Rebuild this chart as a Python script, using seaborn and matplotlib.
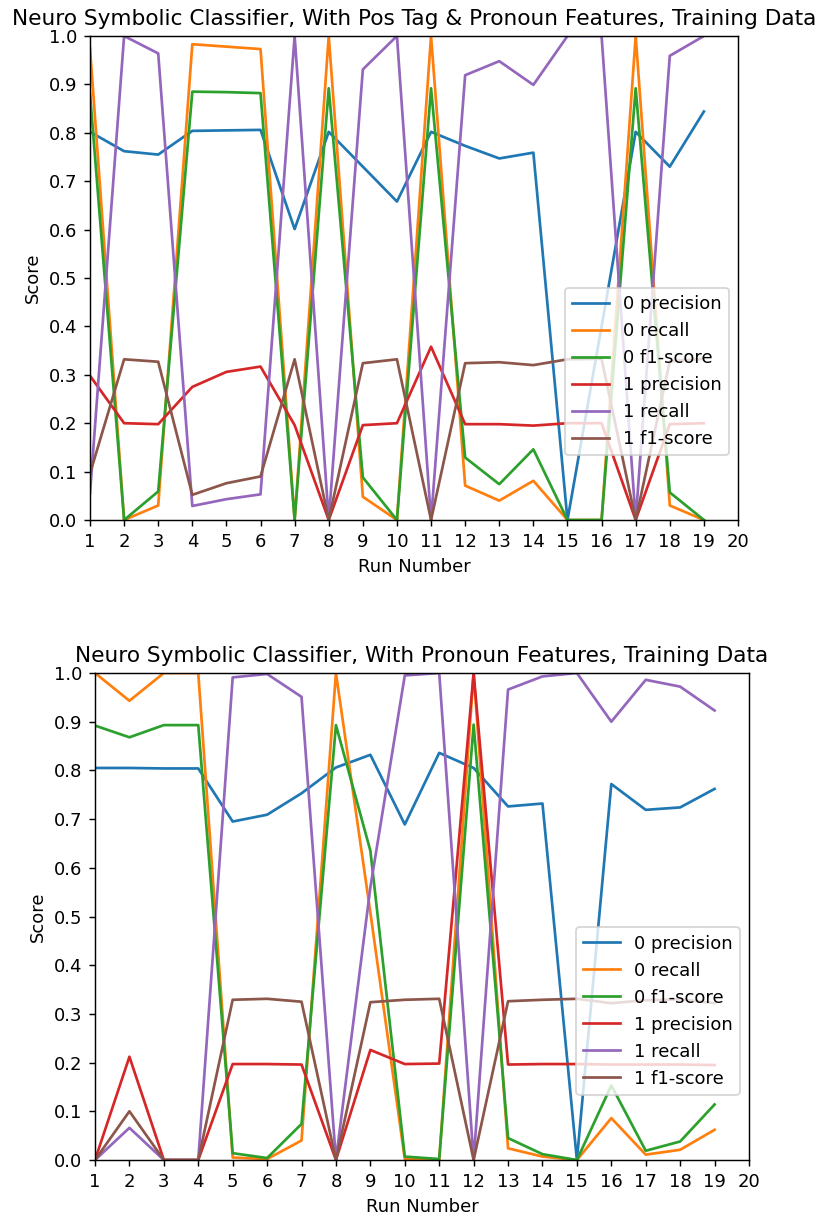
import matplotlib
matplotlib.use("Agg")
import matplotlib.pyplot as plt
import seaborn as sns
import pandas as pd
import numpy as np

runs = list(range(1, 20))
labels = ["0 precision", "0 recall", "0 f1-score", "1 precision", "1 recall", "1 f1-score"]

# Top chart: With Pos Tag & Pronoun Features
top_p0 = [0.802, 0.762, 0.755, 0.804, 0.805, 0.806, 0.601, 0.802, 0.730, 0.658,
          0.802, 0.773, 0.747, 0.759, 0.0, 0.40, 0.802, 0.730, 0.844]
top_r0 = [0.975, 0.0, 0.030, 0.983, 0.978, 0.973, 0.0, 1.0, 0.048, 0.0,
          1.0, 0.071, 0.040, 0.081, 0.0, 0.0, 1.0, 0.030, 0.0]
top_f0 = [0.880, 0.0, 0.059, 0.885, 0.884, 0.882, 0.0, 0.892, 0.088, 0.0,
          0.892, 0.129, 0.074, 0.146, 0.0, 0.0, 0.892, 0.057, 0.0]
top_p1 = [0.298, 0.200, 0.198, 0.275, 0.306, 0.317, 0.196, 0.0, 0.196, 0.200,
          0.358, 0.198, 0.198, 0.195, 0.200, 0.200, 0.0, 0.198, 0.200]
top_r1 = [0.055, 1.0, 0.964, 0.029, 0.043, 0.053, 1.0, 0.0, 0.931, 1.0,
          0.0, 0.919, 0.948, 0.899, 1.0, 1.0, 0.0, 0.959, 1.0]
top_f1 = [0.096, 0.332, 0.327, 0.052, 0.076, 0.090, 0.332, 0.0, 0.324, 0.332,
          0.0, 0.324, 0.326, 0.320, 0.332, 0.333, 0.0, 0.328, 0.333]

# Bottom chart: With Pronoun Features
bot_p0 = [0.805, 0.805, 0.804, 0.804, 0.695, 0.709, 0.753, 0.806, 0.832, 0.689,
          0.836, 0.805, 0.726, 0.732, 0.0, 0.772, 0.719, 0.724, 0.762]
bot_r0 = [1.0, 0.943, 1.0, 1.0, 0.005, 0.002, 0.040, 1.0, 0.508, 0.002,
          0.0, 1.0, 0.024, 0.007, 0.0, 0.086, 0.011, 0.021, 0.062]
bot_f0 = [0.892, 0.868, 0.893, 0.893, 0.014, 0.004, 0.074, 0.893, 0.635, 0.007,
          0.002, 0.894, 0.045, 0.012, 0.0, 0.153, 0.019, 0.038, 0.114]
bot_p1 = [0.0, 0.212, 0.0, 0.0, 0.197, 0.197, 0.196, 0.0, 0.226, 0.197,
          0.198, 1.0, 0.196, 0.197, 0.197, 0.196, 0.196, 0.196, 0.195]
bot_r1 = [0.0, 0.066, 0.0, 0.0, 0.991, 0.998, 0.951, 0.0, 0.56, 0.995,
          1.0, 0.0, 0.966, 0.993, 1.0, 0.900, 0.986, 0.972, 0.923]
bot_f1 = [0.0, 0.100, 0.0, 0.0, 0.329, 0.331, 0.325, 0.0, 0.324, 0.329,
          0.331, 0.0, 0.326, 0.329, 0.331, 0.322, 0.328, 0.330, 0.322]

titles = ["Neuro Symbolic Classifier, With Pos Tag & Pronoun Features, Training Data",
          "Neuro Symbolic Classifier, With Pronoun Features, Training Data"]


def long_df(series):
    rows = []
    for lab, vals in zip(labels, series):
        for r, v in zip(runs, vals):
            rows.append({"Run Number": r, "Score": v, "metric": lab})
    return pd.DataFrame(rows)


df_top = long_df([top_p0, top_r0, top_f0, top_p1, top_r1, top_f1])
df_bot = long_df([bot_p0, bot_r0, bot_f0, bot_p1, bot_r1, bot_f1])

palette = dict(zip(labels, sns.color_palette("tab10", 6)))

DPI = 130
fig = plt.figure(figsize=(820 / DPI, 1216 / DPI), dpi=DPI)
ax1 = fig.add_axes([90 / 820, (1216 - 520) / 1216, 648 / 820, 484 / 1216])
ax2 = fig.add_axes([95 / 820, (1216 - 1160) / 1216, 654 / 820, 487 / 1216])

for ax, df, title in [(ax1, df_top, titles[0]), (ax2, df_bot, titles[1])]:
    sns.lineplot(data=df, x="Run Number", y="Score", hue="metric", hue_order=labels,
                 palette=palette, ax=ax, linewidth=1.5, estimator=None)
    ax.set_xlim(1, 20)
    ax.set_ylim(0, 1)
    ax.set_xticks(range(1, 21))
    ax.set_yticks(np.arange(0, 1.01, 0.1))
    ax.set_yticklabels([f"{v:.1f}" for v in np.arange(0, 1.01, 0.1)])
    ax.set_title(title)
    ax.set_xlabel("Run Number")
    ax.set_ylabel("Score")
    handles, labs = ax.get_legend_handles_labels()
    ax.legend(handles, labs, loc="lower right", bbox_to_anchor=(1, 0.115))

fig.savefig("out.png", dpi=DPI)
